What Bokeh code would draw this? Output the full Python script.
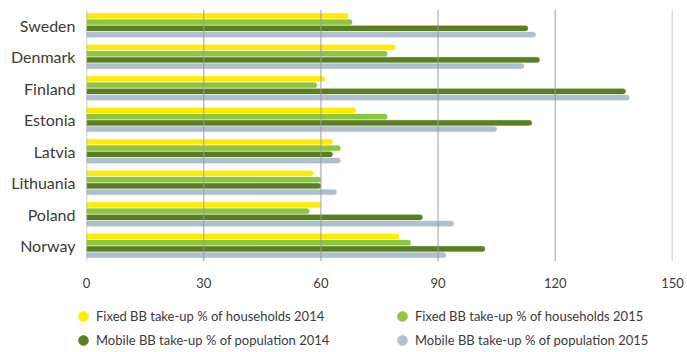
from bokeh.plotting import figure
from bokeh.layouts import column
from bokeh.models import ColumnDataSource, FactorRange, Legend, LegendItem, FixedTicker, Span
from bokeh.transform import dodge
from bokeh.embed import file_html
from bokeh.resources import INLINE

countries = ["Sweden", "Denmark", "Finland", "Estonia", "Latvia", "Lithuania", "Poland", "Norway"]
fixed_2014 = [67, 79, 61, 69, 63, 58, 60, 80]
fixed_2015 = [68, 77, 59, 77, 65, 60, 57, 83]
mobile_2014 = [113, 116, 138, 114, 63, 60, 86, 102]
mobile_2015 = [115, 112, 139, 105, 65, 64, 94, 92]
x_ticks = [0, 30, 60, 90, 120, 150]

series = [
    ("fixed_2014", "Fixed BB take-up % of households 2014", "#FFEC00", -0.295),
    ("fixed_2015", "Fixed BB take-up % of households 2015", "#8DC63F", -0.098),
    ("mobile_2014", "Mobile BB take-up % of population 2014", "#5A7F22", 0.098),
    ("mobile_2015", "Mobile BB take-up % of population 2015", "#AEC0CF", 0.295),
]

source = ColumnDataSource(data=dict(
    country=countries,
    fixed_2014=fixed_2014,
    fixed_2015=fixed_2015,
    mobile_2014=mobile_2014,
    mobile_2015=mobile_2015,
))

FONT = "Lato"
TEXT = "#3a3a3a"

p = figure(
    width=687, height=290,
    y_range=FactorRange(*reversed(countries)),
    x_range=(0, 150),
    output_backend="svg", toolbar_location=None,
    min_border_left=86, min_border_right=15,
    min_border_top=9, min_border_bottom=28,
)
p.outline_line_color = None
p.background_fill_color = "white"

for key, label, color, offset in series:
    p.hbar(
        y=dodge("country", -offset, range=p.y_range), right=key, left=0,
        height=0.165, source=source, fill_color=color, line_color=color,
        line_width=0.6, line_alpha=0.5, border_radius=(0, 3, 3, 0),
    )

# vertical reference lines at every tick, drawn over the bars
p.xgrid.grid_line_color = None
p.ygrid.grid_line_color = None
for t in x_ticks:
    p.add_layout(Span(location=t, dimension="height", line_color="#9a9a9a",
                      line_alpha=0.65, line_width=1.5, level="overlay"))

p.xaxis.ticker = FixedTicker(ticks=x_ticks)
p.xaxis.axis_line_color = None
p.xaxis.major_tick_line_color = None
p.xaxis.minor_tick_line_color = None
p.xaxis.major_label_standoff = 10
p.xaxis.major_label_text_font = FONT
p.xaxis.major_label_text_font_size = "13px"
p.xaxis.major_label_text_color = TEXT

p.yaxis.axis_line_color = None
p.yaxis.major_tick_line_color = None
p.yaxis.minor_tick_line_color = None
p.yaxis.major_label_standoff = 5
p.yaxis.major_label_text_font = FONT
p.yaxis.major_label_text_font_size = "16px"
p.yaxis.major_label_text_color = TEXT

# legend strip underneath the chart, with round swatches
lg = figure(
    width=687, height=62, x_range=(0, 1), y_range=(0, 1),
    output_backend="svg", toolbar_location=None,
    x_axis_location=None, y_axis_location=None,
    min_border_left=0, min_border_right=0, min_border_top=0, min_border_bottom=0,
)
lg.grid.visible = False
lg.outline_line_color = None

# keep the strip's frame independent of the chart frame above
unaligned = "frame_align" in lg.properties()
if unaligned:
    lg.frame_align = False
    p.frame_align = False
frame_left = 0 if unaligned else 86

swatches = {}
for key, label, color, offset in series:
    # NaN position: the swatch only shows up inside the legend
    swatches[key] = (lg.scatter(x=[float("nan")], y=[float("nan")], marker="circle",
                                size=11, fill_color=color, line_color=color), label)


def legend_block(keys, loc):
    leg = Legend(items=[LegendItem(label=swatches[k][1], renderers=[swatches[k][0]])
                        for k in keys],
                 orientation="vertical", location=loc)
    leg.background_fill_alpha = 0
    leg.border_line_color = None
    leg.label_text_font = FONT
    leg.label_text_font_size = "13px"
    leg.label_text_color = TEXT
    leg.glyph_width = 24
    leg.glyph_height = 24
    leg.label_height = 24
    leg.spacing = 0
    leg.padding = 0
    leg.margin = 0
    leg.label_standoff = 1
    return leg


left_x = max(71 - frame_left, -7)
lg.add_layout(legend_block(["fixed_2014", "mobile_2014"], (left_x, 0)))
lg.add_layout(legend_block(["fixed_2015", "mobile_2015"], (390 - frame_left, 0)))

layout = column(p, lg, spacing=0)
open("out.html", "w").write(file_html(layout, INLINE))
